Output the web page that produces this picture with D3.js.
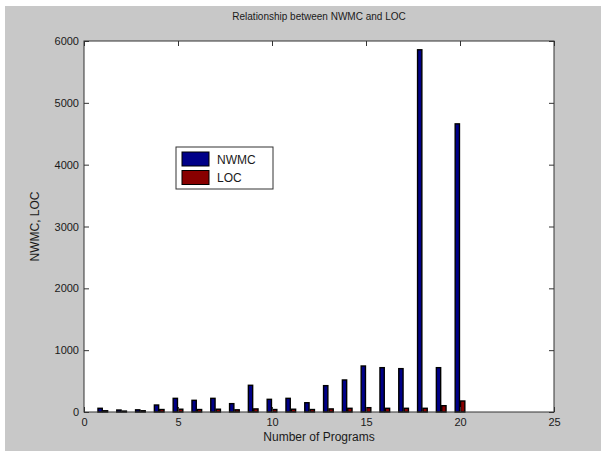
<!DOCTYPE html>
<html>
<head>
<meta charset="utf-8">
<script src="https://cdn.jsdelivr.net/npm/d3@7"></script>
<style>
  html, body { margin: 0; padding: 0; background: #ffffff; }
  svg { display: block; }
  text { font-family: "Liberation Sans", Arial, sans-serif; fill: #1a1a1a; }
</style>
</head>
<body>
<svg id="chart" width="606" height="456"></svg>
<script>
// Program index and measured counts per program
const programs = [1, 2, 3, 4, 5, 6, 7, 8, 9, 10, 11, 12, 13, 14, 15, 16, 17, 18, 19, 20];
const nwmc = [60, 32, 35, 113, 221, 189, 221, 135, 432, 205, 221, 150, 426, 518, 744, 717, 701, 5858, 717, 4660];
const loc  = [20, 15, 20, 40, 45, 40, 45, 35, 50, 40, 45, 40, 50, 60, 70, 60, 60, 60, 102, 178];
const seriesNames = ["NWMC", "LOC"];
const seriesColors = ["#000088", "#880000"];
const xTicks = [0, 5, 10, 15, 20, 25];
const yTicks = [0, 1000, 2000, 3000, 4000, 5000, 6000];

const svg = d3.select("#chart");
const plot = { left: 84, right: 554, top: 41, bottom: 412 };

// figure background
svg.append("rect").attr("x", 5).attr("y", 6).attr("width", 596).attr("height", 445)
  .attr("fill", "#c8c8c8");

const x = d3.scaleLinear().domain([0, 25]).range([plot.left, plot.right]);
const y = d3.scaleLinear().domain([0, 6000]).range([plot.bottom, plot.top]);

// axes area
svg.append("rect").attr("x", plot.left).attr("y", plot.top)
  .attr("width", plot.right - plot.left).attr("height", plot.bottom - plot.top)
  .attr("fill", "#ffffff");

// grouped bars: two series side by side around each program index
const groupWidth = 0.571;
const barW = groupWidth / 2 * 0.8;
const series = [nwmc, loc];
series.forEach((vals, si) => {
  const off = (si === 0 ? -1 : 1) * groupWidth / 4;
  svg.append("g").selectAll("rect").data(programs).join("rect")
    .attr("x", (p) => x(p + off - barW / 2))
    .attr("width", (p) => x(p + off + barW / 2) - x(p + off - barW / 2))
    .attr("y", (p, i) => y(vals[i]))
    .attr("height", (p, i) => y(0) - y(vals[i]))
    .attr("fill", seriesColors[si])
    .attr("stroke", "#000")
    .attr("stroke-width", 1.4);
});

// axes with inward ticks on all four sides
const tickLen = 5;
const axB = svg.append("g").attr("transform", `translate(0,${plot.bottom})`)
  .call(d3.axisBottom(x).tickValues(xTicks).tickSize(-tickLen).tickPadding(6).tickFormat(d3.format("d")));
const axT = svg.append("g").attr("transform", `translate(0,${plot.top})`)
  .call(d3.axisTop(x).tickValues(xTicks).tickSize(-tickLen).tickFormat(""));
const axL = svg.append("g").attr("transform", `translate(${plot.left},0)`)
  .call(d3.axisLeft(y).tickValues(yTicks).tickSize(-tickLen).tickPadding(5).tickFormat(d3.format("d")));
const axR = svg.append("g").attr("transform", `translate(${plot.right},0)`)
  .call(d3.axisRight(y).tickValues(yTicks).tickSize(-tickLen).tickFormat(""));
[axB, axT, axL, axR].forEach(g => {
  g.select(".domain").remove();
  g.selectAll(".tick line").attr("stroke", "#333");
  g.selectAll("text").attr("font-size", 11).attr("fill", "#1a1a1a")
    .attr("font-family", "'Liberation Sans', Arial, sans-serif");
});

// axes box
svg.append("rect").attr("x", plot.left).attr("y", plot.top)
  .attr("width", plot.right - plot.left).attr("height", plot.bottom - plot.top)
  .attr("fill", "none").attr("stroke", "#333").attr("stroke-width", 1);

// title and labels
svg.append("text").attr("x", (plot.left + plot.right) / 2).attr("y", 20)
  .attr("text-anchor", "middle").attr("font-size", 10).text("Relationship between NWMC and LOC");
svg.append("text").attr("x", (plot.left + plot.right) / 2).attr("y", 441)
  .attr("text-anchor", "middle").attr("font-size", 12).text("Number of Programs");
svg.append("text").attr("transform", `translate(39,${(plot.top + plot.bottom) / 2}) rotate(-90)`)
  .attr("text-anchor", "middle").attr("font-size", 12).text("NWMC, LOC");

// legend
const lg = svg.append("g");
lg.append("rect").attr("x", 176).attr("y", 147).attr("width", 97).attr("height", 42)
  .attr("fill", "#fff").attr("stroke", "#333").attr("stroke-width", 1);
seriesNames.forEach((name, i) => {
  const yy = 152 + i * 18.5;
  lg.append("rect").attr("x", 182).attr("y", yy).attr("width", 27).attr("height", 14)
    .attr("fill", seriesColors[i]).attr("stroke", "#000").attr("stroke-width", 1);
  lg.append("text").attr("x", 217).attr("y", yy + 11.5).attr("font-size", 12).text(name);
});
</script>
</body>
</html>
